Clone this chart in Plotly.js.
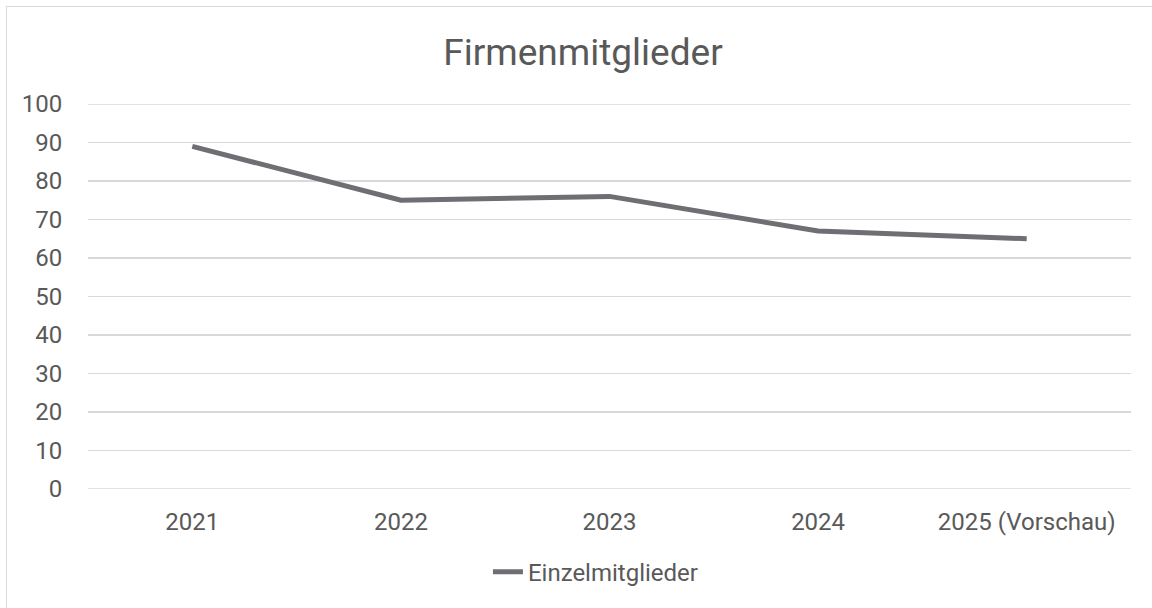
<!DOCTYPE html>
<html>
<head>
<meta charset="utf-8">
<script src="https://cdn.plot.ly/plotly-3.0.1.min.js"></script>
<style>
  html, body { margin: 0; padding: 0; background: #ffffff; overflow: hidden; }
  #wrap { position: relative; width: 1152px; height: 608px; }
  #chart { position: absolute; left: 0; top: 0; width: 1152px; height: 608px; }
  #frame { position: absolute; left: 6px; top: 6px; width: 1170px; height: 630px;
           border: 1.5px solid #d9d9d9; pointer-events: none; box-sizing: border-box; }
</style>
</head>
<body>
<div id="wrap">
  <div id="chart"></div>
  <div id="frame"></div>
</div>
<script>
const categories = ["2021", "2022", "2023", "2024", "2025 (Vorschau)"];
const einzelmitglieder = [89, 75, 76, 67, 65];
const yTicks = [0, 10, 20, 30, 40, 50, 60, 70, 80, 90, 100];

const textColor = "#595959";
const gridColor = "#d9d9d9";
const font = "Roboto, 'Open Sans', sans-serif";

const trace = {
  x: categories,
  y: einzelmitglieder,
  type: "scatter",
  mode: "lines",
  name: "Einzelmitglieder",
  line: { color: "#6e6e73", width: 5 }
};

// Gridlines at the range ends (Plotly drops those that touch the plot edges)
const edgeGrid = [yTicks[0], yTicks[yTicks.length - 1]].map(v => ({
  type: "line", xref: "paper", yref: "y",
  x0: 0, x1: 1, y0: v, y1: v,
  line: { color: gridColor, width: 1.5 },
  layer: "below"
}));

const layout = {
  width: 1152,
  height: 608,
  paper_bgcolor: "rgba(0,0,0,0)",
  plot_bgcolor: "rgba(0,0,0,0)",
  margin: { l: 88, r: 21, t: 104, b: 119 },
  font: { family: font, color: textColor, size: 24 },
  title: {
    text: "Firmenmitglieder",
    font: { family: font, size: 37, color: textColor },
    x: 583 / 1152, xref: "container", xanchor: "center",
    y: 1 - 52 / 608, yref: "container", yanchor: "middle"
  },
  xaxis: {
    type: "category",
    range: [-0.5, categories.length - 0.5],
    tickfont: { family: font, size: 24, color: textColor },
    ticks: "outside", ticklen: 11, tickcolor: "rgba(0,0,0,0)",
    showgrid: false, zeroline: false, showline: false,
    fixedrange: true
  },
  yaxis: {
    range: [yTicks[0], yTicks[yTicks.length - 1]],
    tickvals: yTicks,
    ticktext: yTicks.map(String),
    tickfont: { family: font, size: 24, color: textColor },
    ticks: "outside", ticklen: 20, tickcolor: "rgba(0,0,0,0)",
    showgrid: true, gridcolor: gridColor, gridwidth: 1.5,
    zeroline: false, showline: false,
    fixedrange: true
  },
  shapes: edgeGrid,
  showlegend: true,
  legend: {
    orientation: "h",
    x: 0.487, xanchor: "center",
    y: -0.216, yanchor: "middle",
    font: { family: font, size: 24, color: textColor },
    bgcolor: "rgba(0,0,0,0)"
  }
};

Plotly.newPlot("chart", [trace], layout, { displayModeBar: false, staticPlot: true });
</script>
</body>
</html>
